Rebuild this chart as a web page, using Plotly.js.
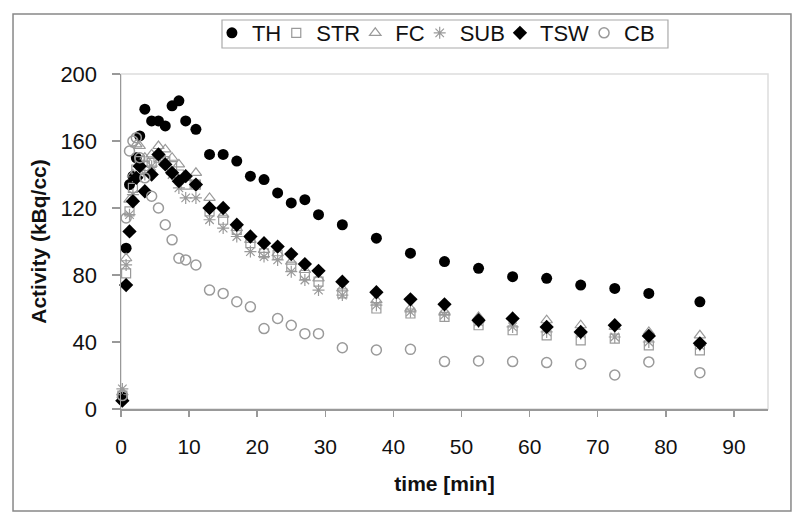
<!DOCTYPE html>
<html>
<head>
<meta charset="utf-8">
<script src="https://cdn.plot.ly/plotly-3.0.1.min.js"></script>
<style>html,body{margin:0;padding:0;background:#fff;}#chart{width:800px;height:523px;}</style>
</head>
<body>
<div id="chart"></div>
<script>
const time = [0.2, 0.75, 1.25, 1.75, 2.25, 2.75, 3.5, 4.5, 5.5, 6.5, 7.5, 8.5, 9.5, 11, 13, 15, 17, 19, 21, 23, 25, 27, 29, 32.5, 37.5, 42.5, 47.5, 52.5, 57.5, 62.5, 67.5, 72.5, 77.5, 85];
const TH  = [7, 96, 134, 139, 150, 163, 179, 172, 172, 169, 181, 184, 172, 167, 152, 152, 148, 139, 137, 129, 123, 125, 116, 110, 102, 93, 88, 84, 79, 78, 74, 72, 69, 64];
const STR = [8, 81, 118, 132, 143, 148, 145, 147, 150, 148, 145, 140, 134, 134, 118, 113, 107, 99, 93, 92, 85, 80, 76, 69, 60, 57, 55, 50, 47, 44, 41, 42, 38, 35];
const FC  = [10, 90, 125, 140, 158, 157, 150, 152, 157, 155, 150, 146, 138, 141, 126, 116, 108, 101, 95, 93, 88, 83, 78, 72, 65, 60, 58, 55, 55, 53, 50, 49, 46, 44];
const SUB = [12, 86, 116, 128, 138, 145, 140, 145, 150, 148, 140, 132, 126, 126, 113, 108, 103, 94, 91, 89, 82, 77, 71, 68, 62, 58, 56, 52, 49, 46, 45, 43, 40, 38];
const TSW = [5, 74, 106, 124, 138, 145, 130, 140, 152, 146, 141, 136, 139, 134, 120, 120, 110, 103, 99, 97, 92.5, 86.5, 82.5, 76, 69.7, 65.5, 62.5, 53, 54, 49, 46, 50, 43.6, 39.2];
const CB  = [8, 114, 154, 160, 162, 150, 138, 127, 120, 110, 101, 90, 89, 86, 71, 69, 64, 61, 48, 54, 50, 45, 45, 36.6, 35.2, 35.6, 28.3, 28.7, 28.3, 27.7, 26.9, 20.3, 28.1, 21.7];
const xTicks = [0, 10, 20, 30, 40, 50, 60, 70, 80, 90];
const yTicks = [0, 40, 80, 120, 160, 200];

const grey = '#9a9a9a';
function tr(name, y, marker) {
  return {x: time, y: y, name: name, type: 'scatter', mode: 'markers', marker: marker, cliponaxis: false};
}
const data = [
  tr('TH', TH, {symbol: 'circle', color: '#000', size: 11}),
  tr('STR', STR, {symbol: 'square-open', color: grey, size: 9, line: {width: 1.2}}),
  tr('FC', FC, {symbol: 'triangle-up-open', color: grey, size: 10, line: {width: 1.2}}),
  tr('SUB', SUB, {symbol: 'asterisk-open', color: grey, size: 10, line: {width: 1.2, color: grey}}),
  tr('TSW', TSW, {symbol: 'diamond', color: '#000', size: 11}),
  tr('CB', CB, {symbol: 'circle-open', color: grey, size: 10, line: {width: 1.5}})
];

const fontFam = 'Liberation Sans, Arial, sans-serif';
const layout = {
  width: 800, height: 523,
  margin: {l: 121, r: 32, t: 74, b: 114, pad: 0},
  paper_bgcolor: '#fff', plot_bgcolor: '#fff',
  font: {family: fontFam, color: '#111', size: 22},
  showlegend: true,
  legend: {
    orientation: 'h', x: 0.156, y: 1.185, xanchor: 'left', yanchor: 'top',
    borderwidth: 0, bgcolor: 'rgba(0,0,0,0)',
    font: {family: fontFam, size: 22, color: '#111'},
    itemwidth: 30, tracegroupgap: 0, indentation: -10
  },
  xaxis: {
    range: [0, 95], tickvals: xTicks, ticktext: xTicks.map(String),
    showgrid: false, zeroline: false, showline: true, linecolor: '#999', linewidth: 1.5,
    ticks: 'outside', ticklen: 6, tickcolor: '#999', tickwidth: 1.5,
    ticklabelstandoff: 12,
    tickfont: {size: 21, family: fontFam, color: '#111'},
    title: {text: '<b>time [min]</b>', font: {size: 21, family: fontFam, color: '#111'}, standoff: 19}
  },
  yaxis: {
    range: [0, 200], tickvals: yTicks, ticktext: yTicks.map(String),
    showgrid: false, zeroline: false, showline: true, linecolor: '#999', linewidth: 1.5,
    ticks: 'outside', ticklen: 8, tickcolor: '#999', tickwidth: 1.5,
    ticklabelstandoff: 10,
    tickfont: {size: 22, family: fontFam, color: '#111'},
    title: {text: '<b>Activity (kBq/cc)</b>', font: {size: 21, family: fontFam, color: '#111'}, standoff: 8}
  },
  shapes: [
    {type: 'rect', xref: 'paper', yref: 'paper', x0: 0, x1: 1, y0: 0, y1: 1, line: {color: '#ddd', width: 1.5}, layer: 'below'},
    {type: 'rect', xref: 'paper', yref: 'paper', x0: -0.1669, x1: 1.0355, y0: -0.3045, y1: 1.1791, line: {color: '#888', width: 1.5}, layer: 'below'},
    {type: 'rect', xref: 'paper', yref: 'paper', x0: 0.1561, x1: 0.8454, y0: 1.0776, y1: 1.1612, line: {color: '#aaa', width: 1.2}, fillcolor: 'rgba(0,0,0,0)', layer: 'above'}
  ]
};
Plotly.newPlot('chart', data, layout, {staticPlot: true, displayModeBar: false});
</script>
</body>
</html>
